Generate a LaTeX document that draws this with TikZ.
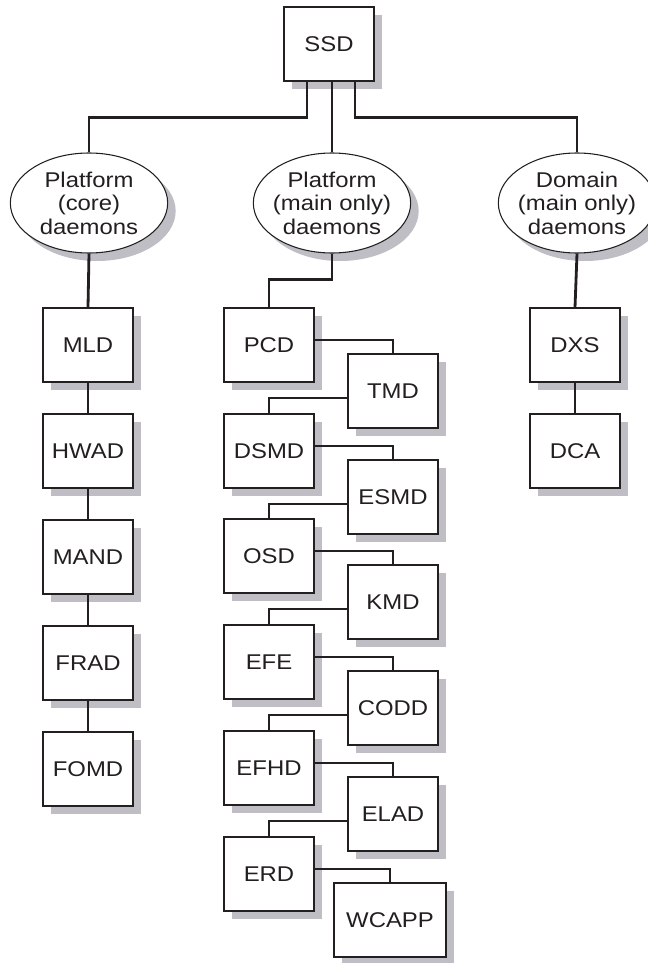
\documentclass[tikz,border=0pt]{standalone}
\usepackage{fontspec}
\setmainfont{Liberation Sans}[FakeStretch=1.12]
\usetikzlibrary{shapes,shadows}
\definecolor{shadowgray}{RGB}{190,190,196}
\definecolor{inkgray}{RGB}{35,31,32}
\tikzstyle{daemon} = [draw=inkgray, fill=white, rectangle, line width=0.8pt, minimum width=67.5pt, minimum height=55.5pt, inner sep=0pt, text=inkgray, font=\fontsize{16}{17.6}\selectfont, drop shadow={shadow xshift=6pt, shadow yshift=-6pt, fill=shadowgray, opacity=1}]
\tikzstyle{group} = [draw=inkgray, fill=white, ellipse, line width=0.8pt, minimum width=118pt, minimum height=75pt, inner xsep=-6pt, inner ysep=0pt, align=center, text=inkgray, font=\fontsize{16}{17.6}\selectfont, drop shadow={shadow xshift=6pt, shadow yshift=-6pt, fill=shadowgray, opacity=1}]
\tikzstyle{link} = [draw=inkgray, line width=2.1pt]

\begin{document}
\begin{tikzpicture}[x=0.75pt, y=-0.75pt]
	\useasboundingbox (0,0) rectangle (648,963);

	% TOP
	\node[daemon] (ssd) at (329,44) {SSD};

	% GROUPS
	\node[group] (core) at (89,203) {Platform\\(core)\\daemons};
	\node[group] (main) at (332,203) {Platform\\(main only)\\daemons};
	\node[group] (domain) at (577,203) {Domain\\(main only)\\daemons};

	% CORE DAEMONS
	\node[daemon] (mld) at (88,345) {MLD};
	\node[daemon] (hwad) at (88,451) {HWAD};
	\node[daemon] (mand) at (88,557) {MAND};
	\node[daemon] (frad) at (88,663) {FRAD};
	\node[daemon] (fomd) at (88,769) {FOMD};

	% MAIN ONLY DAEMONS
	\node[daemon] (pcd) at (269,345) {PCD};
	\node[daemon] (tmd) at (393,391) {TMD};
	\node[daemon] (dsmd) at (269,451) {DSMD};
	\node[daemon] (esmd) at (393,497) {ESMD};
	\node[daemon] (osd) at (269,556) {OSD};
	\node[daemon] (kmd) at (393,602) {KMD};
	\node[daemon] (efe) at (269,662) {EFE};
	\node[daemon] (codd) at (393,708) {CODD};
	\node[daemon] (efhd) at (269,768) {EFHD};
	\node[daemon] (elad) at (393,814) {ELAD};
	\node[daemon] (erd) at (269,874) {ERD};
	\node[daemon, minimum width=84pt] (wcapp) at (390,920) {WCAPP};

	% DOMAIN DAEMONS
	\node[daemon] (dxs) at (575,345) {DXS};
	\node[daemon] (dca) at (575,451) {DCA};

	% SSD TO GROUPS
	\draw[link] (ssd.south) ++(-22,0) -- ++(0,36) -| (core.north);
	\draw[link] (ssd.south -| main.north) -- (main.north);
	\draw[link] (ssd.south) ++(26,0) -- ++(0,36) -| (domain.north);

	% CORE CHAIN
	\draw[link] (core.south) -- (mld.north);
	\draw[link] (mld) -- (hwad);
	\draw[link] (hwad) -- (mand);
	\draw[link] (mand) -- (frad);
	\draw[link] (frad) -- (fomd);

	% MAIN ONLY CHAIN
	\draw[link] (main.south) -- ++(0,26) -| (pcd.north);
	\draw[link] ([yshift=3.75pt]pcd.east) -| (tmd.north);
	\draw[link] ([yshift=-5.25pt]tmd.west) -| (dsmd.north);
	\draw[link] ([yshift=3.75pt]dsmd.east) -| (esmd.north);
	\draw[link] ([yshift=-5.25pt]esmd.west) -| (osd.north);
	\draw[link] ([yshift=3.75pt]osd.east) -| (kmd.north);
	\draw[link] ([yshift=-5.25pt]kmd.west) -| (efe.north);
	\draw[link] ([yshift=3.75pt]efe.east) -| (codd.north);
	\draw[link] ([yshift=-5.25pt]codd.west) -| (efhd.north);
	\draw[link] ([yshift=3.75pt]efhd.east) -| (elad.north);
	\draw[link] ([yshift=-5.25pt]elad.west) -| (erd.north);
	\draw[link] ([yshift=3.75pt]erd.east) -| (wcapp.north);

	% DOMAIN CHAIN
	\draw[link] (domain.south) -- (dxs.north);
	\draw[link] (dxs) -- (dca);
\end{tikzpicture}
\end{document}
